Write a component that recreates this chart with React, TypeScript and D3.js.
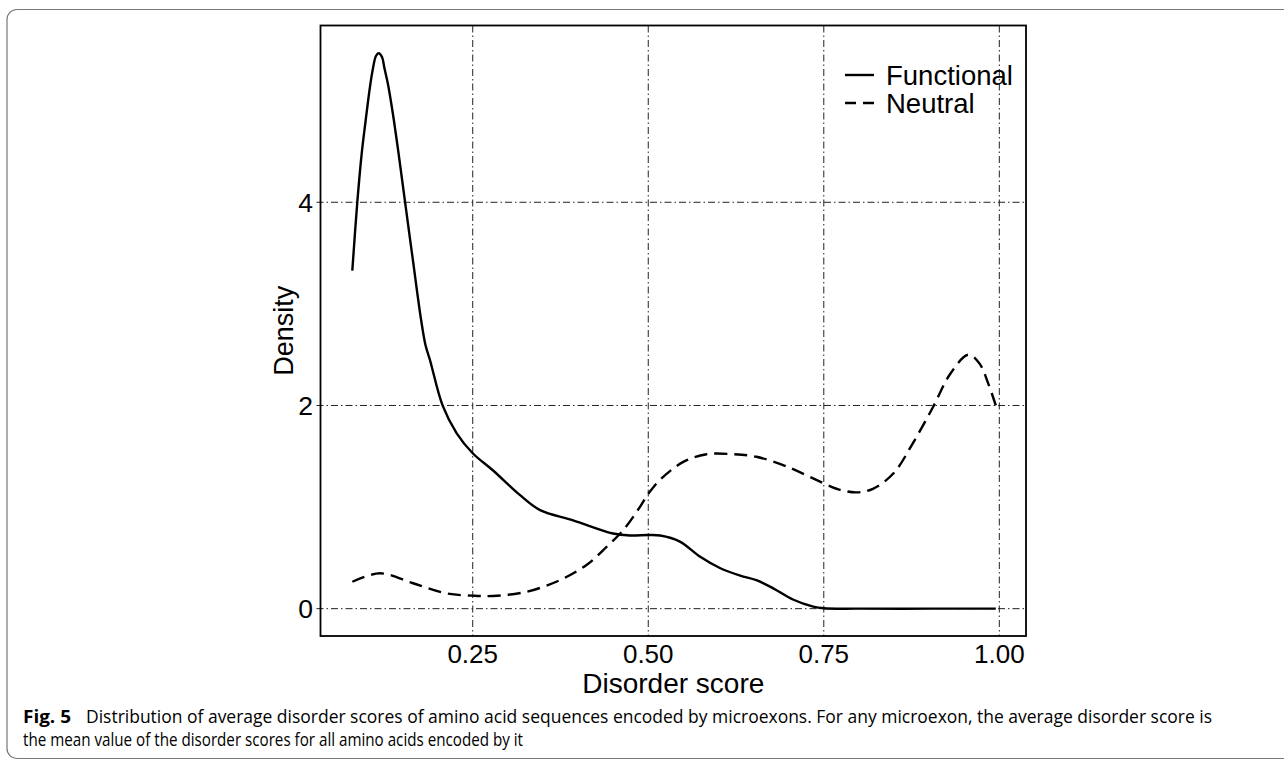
import React from 'react';
import * as d3 from 'd3';

// density estimates
const functionalScore = [0.0785, 0.0856, 0.0919, 0.0976, 0.1037, 0.1075, 0.1122, 0.1161, 0.1208, 0.1243, 0.1293, 0.1364, 0.145, 0.155, 0.165, 0.1763, 0.1827, 0.1891, 0.2072, 0.2272, 0.25, 0.279, 0.317, 0.346, 0.393, 0.45, 0.474, 0.5, 0.517, 0.545, 0.574, 0.602, 0.631, 0.654, 0.678, 0.706, 0.735, 0.75, 0.8, 0.9, 0.995];
const functionalDensity = [3.327, 4.0, 4.482, 4.81, 5.138, 5.302, 5.44, 5.467, 5.43, 5.319, 5.162, 4.867, 4.45, 3.932, 3.42, 2.851, 2.595, 2.448, 1.998, 1.726, 1.53, 1.36, 1.12, 0.97, 0.87, 0.74, 0.72, 0.725, 0.72, 0.66, 0.51, 0.4, 0.325, 0.28, 0.2, 0.09, 0.02, 0.004, 0, 0, 0];

const neutralScore = [0.0786, 0.118, 0.165, 0.213, 0.25, 0.279, 0.327, 0.374, 0.412, 0.441, 0.464, 0.488, 0.5, 0.517, 0.55, 0.583, 0.621, 0.654, 0.697, 0.75, 0.773, 0.797, 0.82, 0.849, 0.877, 0.906, 0.93, 0.956, 0.972, 0.984, 0.995];
const neutralDensity = [0.265, 0.348, 0.25, 0.15, 0.128, 0.125, 0.167, 0.28, 0.43, 0.61, 0.77, 1.0, 1.13, 1.27, 1.445, 1.52, 1.52, 1.495, 1.4, 1.233, 1.17, 1.145, 1.18, 1.33, 1.63, 1.99, 2.31, 2.5, 2.41, 2.22, 2.0];

const xTicks = [0.25, 0.5, 0.75, 1.0];
const yTicks = [0, 2, 4];
const legendLabels = ['Functional', 'Neutral'];

const captionLine1 = 'Distribution of average disorder scores of amino acid sequences encoded by microexons. For any microexon, the average disorder score is';
const captionLine2 = 'the mean value of the disorder scores for all amino acids encoded by it';

const W = 1284;
const H = 763;
const left = 320.5;
const right = 1026;
const top = 25.5;
const bottom = 636;
const font = '"Liberation Sans", Arial, Helvetica, sans-serif';
const capFont = '"Open Sans", "Noto Sans", sans-serif';
const gridDash = '7,3,1.5,3';

export default function App() {
  const x = d3.scaleLinear().domain([0.0332, 1.038]).range([left, right]);
  const y = d3.scaleLinear().domain([-0.269, 5.74]).range([bottom, top]);

  const line = d3.line<[number, number]>()
    .x((d) => x(d[0]))
    .y((d) => y(d[1]))
    .curve(d3.curveCatmullRom.alpha(0.5));

  const functional = functionalScore.map((s, i) => [s, functionalDensity[i]] as [number, number]);
  const neutral = neutralScore.map((s, i) => [s, neutralDensity[i]] as [number, number]);

  return (
    <svg width={W} height={H} style={{ position: 'absolute', left: 0, top: 0, background: '#fff' }}>
      {/* figure frame */}
      <rect x={7} y={9.5} width={1300} height={749} rx={10} fill="none" stroke="#777" strokeWidth={1.2} />

      {/* grid */}
      {xTicks.map((t) => (
        <line key={'gx' + t} x1={x(t)} x2={x(t)} y1={top} y2={bottom} stroke="#222" strokeWidth={1} strokeDasharray={gridDash} />
      ))}
      {yTicks.map((t) => (
        <line key={'gy' + t} x1={left - 4} x2={right} y1={y(t)} y2={y(t)} stroke="#222" strokeWidth={1} strokeDasharray={gridDash} />
      ))}

      {/* curves */}
      <path d={line(functional) || ''} fill="none" stroke="#000" strokeWidth={2.4} />
      <path d={line(neutral) || ''} fill="none" stroke="#000" strokeWidth={2.4} strokeDasharray="13,7" />

      {/* panel border */}
      <rect x={left} y={top} width={right - left} height={bottom - top} fill="none" stroke="#000" strokeWidth={1.8} />

      {/* tick labels */}
      {xTicks.map((t) => (
        <text key={'tx' + t} x={x(t)} y={663} textAnchor="middle" fontFamily={font} fontSize={26} fill="#000">
          {d3.format('.2f')(t)}
        </text>
      ))}
      {yTicks.map((t) => (
        <text key={'ty' + t} x={313} y={y(t) + 9.5} textAnchor="end" fontFamily={font} fontSize={26.5} fill="#000">
          {t}
        </text>
      ))}

      {/* axis titles */}
      <text x={(left + right) / 2} y={693} textAnchor="middle" fontFamily={font} fontSize={28} fill="#000">Disorder score</text>
      <text transform={`translate(293,${(top + bottom) / 2}) rotate(-90)`} textAnchor="middle" fontFamily={font} fontSize={27} fill="#000">Density</text>

      {/* legend */}
      {legendLabels.map((lab, i) => (
        <g key={lab} transform={`translate(0,${75 + i * 28})`}>
          <line x1={845} x2={874} y1={0} y2={0} stroke="#000" strokeWidth={2.4} strokeDasharray={i === 1 ? '11,7' : undefined} />
          <text x={886} y={9.5} fontFamily={font} fontSize={27.5} fill="#000">{lab}</text>
        </g>
      ))}

      {/* caption */}
      <text x={23} y={723} fontFamily={capFont} fontSize={18.5} fontWeight="bold" fill="#000" textLength={48} lengthAdjust="spacingAndGlyphs">Fig. 5</text>
      <text x={86} y={723} fontFamily={capFont} fontSize={18.5} fill="#000" textLength={1126} lengthAdjust="spacingAndGlyphs">{captionLine1}</text>
      <text x={23} y={746} fontFamily={capFont} fontSize={18.5} fill="#000" textLength={500} lengthAdjust="spacingAndGlyphs">{captionLine2}</text>
    </svg>
  );
}
